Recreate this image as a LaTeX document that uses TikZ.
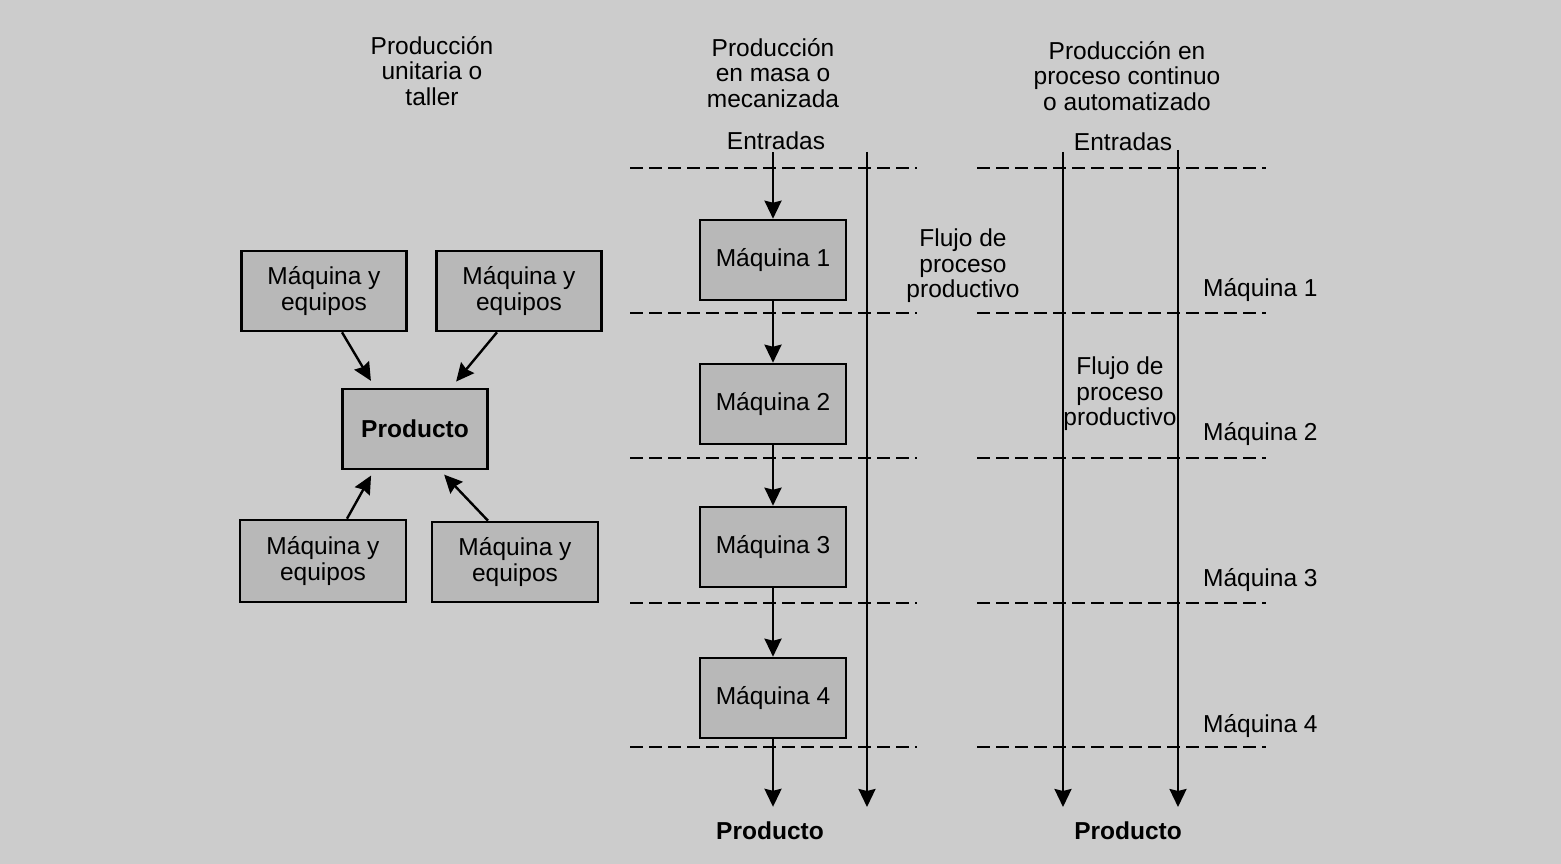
\documentclass[tikz,border=0pt]{standalone}
\usepackage{fontspec}
\setmainfont{Liberation Sans}
\usetikzlibrary{arrows.meta,calc}
\definecolor{bggray}{gray}{0.80}
\definecolor{boxgray}{gray}{0.72}
\begin{document}
\begin{tikzpicture}[x=1pt,y=-1pt,
  txt/.style={font=\fontsize{24.5}{25.5}\selectfont, align=center, inner sep=0pt},
  mbox/.style={draw, line width=2.6pt, fill=boxgray, txt, minimum height=80pt},
  arr/.style={line width=2.4pt, -{Stealth[length=18pt,width=17pt,inset=2pt]}},
  dashline/.style={line width=2.4pt, dash pattern=on 13pt off 6pt},
]
\fill[bggray] (0,0) rectangle (1561,864);
\useasboundingbox (0,0) rectangle (1561,864);

% ---------- left column ----------
\node[txt] (t1) at (432,71) {Producción\\unitaria o\\taller};
\node[mbox, minimum width=165pt] (tl) at (324,291) {Máquina y\\equipos};
\node[mbox, minimum width=165pt] (tr) at (519,291) {Máquina y\\equipos};
\node[mbox, minimum width=145pt, font=\fontsize{24.5}{25.5}\selectfont\bfseries] (pr) at (415,429) {Producto};
\node[mbox, minimum width=166pt, minimum height=82pt] (bl) at (323,561) {Máquina y\\equipos};
\node[mbox, minimum width=166pt] (br) at (515,562) {Máquina y\\equipos};

\draw[arr, shorten >=8pt] ($(tl.south)+(18,0)$) -- ($(pr.north)+(-40,0)$);
\draw[arr, shorten >=8pt] ($(tr.south)+(-22,0)$) -- ($(pr.north)+(36,0)$);
\draw[arr, shorten >=6pt] ($(bl.north)+(24,0)$) -- ($(pr.south)+(-41,0)$);
\draw[arr, shorten >=6pt] ($(br.north)+(-27,0)$) -- ($(pr.south)+(25,0)$);

% ---------- middle column ----------
\node[txt] (t2) at (773,73) {Producción\\en masa o\\mecanizada};
\node[txt] (en2) at (776,141) {Entradas};
\node[mbox, minimum width=146pt] (m1) at (773,260) {Máquina 1};
\node[mbox, minimum width=146pt] (m2) at (773,404) {Máquina 2};
\node[mbox, minimum width=146pt] (m3) at (773,547) {Máquina 3};
\node[mbox, minimum width=146pt] (m4) at (773,698) {Máquina 4};
\node[txt, font=\fontsize{24.5}{25.5}\selectfont\bfseries] (pd2) at (770,831) {Producto};
\node[txt] (fl2) at (963,266) {Flujo de\\proceso\\productivo};

\foreach \yy in {168,313,458,603,747}
  \draw[dashline] (630,\yy) -- (917,\yy);

\draw[arr, shorten <=2pt] (m1.north |- en2.south) -- (m1.north);
\draw[arr] (m1.south) -- (m2.north);
\draw[arr] (m2.south) -- (m3.north);
\draw[arr] (m3.south) -- (m4.north);
\draw[arr, shorten >=15pt] (m4.south) -- (m4.south |- pd2.north);
\coordinate (f1a) at (867,152);
\coordinate (f1b) at (867,807);
\draw[arr] (f1a) -- (f1b);

% ---------- right column ----------
\node[txt] (t3) at (1127,76) {Producción en\\proceso continuo\\o automatizado};
\node[txt] (en3) at (1123,142) {Entradas};
\node[txt, font=\fontsize{24.5}{25.5}\selectfont\bfseries] (pd3) at (1128,831) {Producto};
\node[txt] (fl3) at (1120,394) {Flujo de\\proceso\\productivo};

\foreach \yy in {168,313,458,603,747}
  \draw[dashline] (977,\yy) -- (1266,\yy);

\node[txt, anchor=west] (q1) at (1203,290) {Máquina 1};
\node[txt, anchor=west] (q2) at (1203,434) {Máquina 2};
\node[txt, anchor=west] (q3) at (1203,580) {Máquina 3};
\node[txt, anchor=west] (q4) at (1203,726) {Máquina 4};

\coordinate (f2a) at (1063,152);
\coordinate (f2b) at (1063,807);
\coordinate (f3a) at (1178,150);
\coordinate (f3b) at (1178,807);
\draw[arr] (f2a) -- (f2b);
\draw[arr] (f3a) -- (f3b);
\end{tikzpicture}
\end{document}
